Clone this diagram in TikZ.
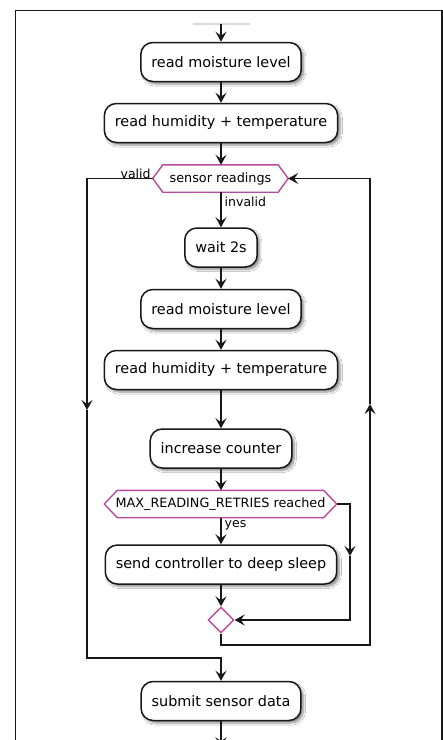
\documentclass[tikz,border=0pt]{standalone}
\usepackage{fontspec}
\setmainfont{DejaVu Sans}
\usetikzlibrary{arrows.meta,shapes.geometric,shadows.blur}

\definecolor{ink}{HTML}{181818}
\definecolor{hexpink}{HTML}{BA4A9E}

\tikzset{
  x=1pt, y=-1pt,
  action/.style={draw=ink, line width=1.5pt, fill=white, rounded corners=12pt,
    minimum height=39pt, inner xsep=10.5pt, font=\fontsize{14.4}{16}\selectfont,
    blur shadow={shadow xshift=2.5pt, shadow yshift=-2.5pt, shadow blur steps=6, shadow opacity=45}},
  hexlabel/.style={inner sep=0pt, minimum height=27pt, font=\fontsize{12.8}{14}\selectfont},
  hexline/.style={draw=hexpink, fill=white, line width=1.4pt, line join=miter},
  merge/.style={diamond, draw=hexpink, fill=white, line width=1.4pt, inner sep=0pt, minimum size=26pt},
  flow/.style={draw=ink, line width=1.4pt},
  tip/.style={-{Stealth[length=10pt, width=11pt, inset=4pt]}},
  guard/.style={font=\fontsize{12.5}{14}\selectfont, inner sep=1pt},
}

% hexagon drawn around a label node; #1 = node name, #2 = tip depth
\newcommand{\hexaround}[2]{%
  \path[hexline] (#1.west) -- ([xshift=#2]#1.north west) -- ([xshift=-#2]#1.north east)
    -- (#1.east) -- ([xshift=-#2]#1.south east) -- ([xshift=#2]#1.south west) -- cycle;}

\begin{document}
\begin{tikzpicture}
\clip (0,0) rectangle (443,740);
\fill[white] (0,0) rectangle (443,740);

% outer frame
\draw[ink, line width=1.3pt] (15.5,760) -- (15.5,10.5) -- (442,10.5) -- (442,760);

% faint edge of the preceding element
\draw[black!15, line width=1.2pt] (193,24) -- (250,24);
\coordinate (start) at (221,24);

% action boxes
\node[action] (m1) at (221,62)  {read moisture level};
\node[action] (h1) at (221,123) {read humidity + temperature};
\node[action] (w)  at (221,247.5) {wait 2s};
\node[action] (m2) at (221,309) {read moisture level};
\node[action] (h2) at (221,370) {read humidity + temperature};
\node[action] (c)  at (221,448.5) {increase counter};
\node[action] (d)  at (221,564.5) {send controller to deep sleep};
\node[action] (u)  at (221,701) {submit sensor data};

% decisions
\node[hexlabel, minimum width=135pt] (s) at (220.5,178.5) {};
\hexaround{s}{10pt}
\node[hexlabel] at (s) {sensor readings};

\node[hexlabel, minimum width=232pt] (r) at (220.5,504) {};
\hexaround{r}{13pt}
\node[hexlabel] at (r) {MAX\_READING\_RETRIES reached};

\node[merge] (j) at (221,620) {};

% main column
\draw[flow, tip] (start) -- (m1.north);
\draw[flow, tip] (m1) -- (h1);
\draw[flow, tip] (h1.south) -- (h1.south |- s.north);
\draw[flow, tip] (s.south -| w.north) -- (w.north)
  node[guard, pos=0.1, anchor=north west, xshift=2pt] {invalid};
\draw[flow, tip] (w) -- (m2);
\draw[flow, tip] (m2) -- (h2);
\draw[flow, tip] (h2) -- (c);
\draw[flow, tip] (c.south) -- (c.south |- r.north);
\draw[flow, tip] (r.south -| d.north) -- (d.north)
  node[guard, pos=0.05, anchor=north west, xshift=2pt] {yes};
\draw[flow, tip] (d.south) -- (j.north);

% retries not reached: bypass into the merge
\coordinate (rr) at (350,504);
\coordinate (rmid) at (350,556);
\draw[flow, tip] (r.east) -- (rr) -- (rmid);
\draw[flow, tip] (rmid) -- (rr |- j) -- (j.east);

% loop back to the sensor check
\coordinate (jl) at (221,645);
\coordinate (lr) at (370,645);
\coordinate (lmid) at (370,404);
\draw[flow, tip] (j.south) -- (jl) -- (lr) -- (lmid);
\draw[flow, tip] (lmid) -- (lr |- s) -- (s.east);

% valid readings: skip to submit
\node[guard, anchor=south east] at ([xshift=-1pt, yshift=-1pt]s.west) {valid};
\coordinate (vl) at (87,178.5);
\coordinate (vmid) at (87,410);
\coordinate (vb) at (87,658);
\draw[flow, tip] (s.west) -- (vl) -- (vmid);
\draw[flow, tip] (vmid) -- (vb) -- (vb -| u.north) -- (u.north);

% continuation below
\draw[flow, tip] (u.south) -- ([yshift=-26pt]u.south);
\end{tikzpicture}
\end{document}
